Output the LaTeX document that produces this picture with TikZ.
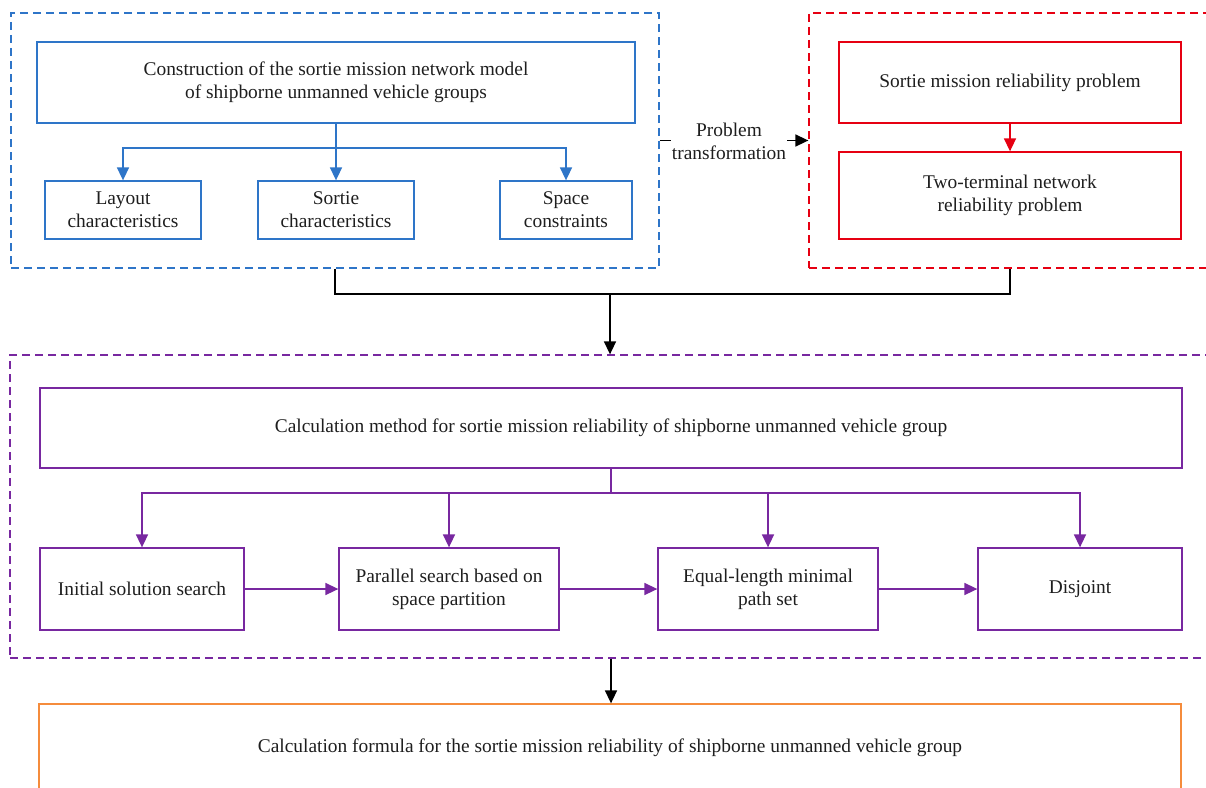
\documentclass[tikz,border=0pt]{standalone}
\usepackage{fontspec}
\setmainfont{Liberation Serif}
\usetikzlibrary{arrows.meta}
\definecolor{cblue}{RGB}{46,117,200}
\definecolor{cred}{RGB}{230,0,18}
\definecolor{cpurple}{RGB}{120,40,160}
\definecolor{corange}{RGB}{245,140,60}
\definecolor{ctext}{RGB}{30,30,30}
\tikzset{
  box/.style={draw, line width=1.3pt, align=center, text=ctext, inner sep=2pt,
    font=\fontsize{19.4}{23}\selectfont},
  group/.style={draw, dashed, line width=1.3pt, dash pattern=on 8pt off 5pt},
  arr/.style={line width=1.6pt, -{Triangle[length=13pt,width=12pt]}},
  ln/.style={line width=1.6pt},
}
\begin{document}
\begin{tikzpicture}[x=1pt,y=-1pt]
\useasboundingbox (0,0) rectangle (1206,787);
\clip (0,0) rectangle (1206,787);
% groups
\node[group, draw=cblue, minimum width=648pt, minimum height=255pt] (bdash) at (335,140.5) {};
\node[group, draw=cred, minimum width=431pt, minimum height=255pt] (rdash) at (1024.5,140.5) {};
\node[group, draw=cpurple, minimum width=1230pt, minimum height=303pt] (pdash) at (625,506.5) {};
% blue
\node[box, draw=cblue, minimum width=598pt, minimum height=81pt] (btop) at (336,82.5) {Construction of the sortie mission network model\\of shipborne unmanned vehicle groups};
\node[box, draw=cblue, minimum width=156pt, minimum height=58pt] (layout) at (123,210) {Layout\\characteristics};
\node[box, draw=cblue, minimum width=156pt, minimum height=58pt] (sortie) at (336,210) {Sortie\\characteristics};
\node[box, draw=cblue, minimum width=132pt, minimum height=58pt] (space) at (566,210) {Space\\constraints};
\coordinate (bsplit) at (336,148);
\draw[ln, cblue] (btop.south) -- (bsplit);
\draw[arr, cblue] (bsplit) -| (layout.north);
\draw[arr, cblue] (bsplit) -- (sortie.north);
\draw[arr, cblue] (bsplit) -| (space.north);
% red
\node[box, draw=cred, minimum width=342pt, minimum height=81pt] (r1) at (1010,82.5) {Sortie mission reliability problem};
\node[box, draw=cred, minimum width=342pt, minimum height=87pt] (r2) at (1010,195.5) {Two-terminal network\\reliability problem};
\draw[arr, cred] (r1.south) -- (r2.north);
% problem transformation
\node[align=center, text=ctext, inner sep=1pt, font=\fontsize{19.4}{23}\selectfont] (ptxt) at (729,141) {Problem\\transformation};
\draw[ln] (bdash.east) -- (ptxt.west |- bdash.east);
\draw[arr] (ptxt.east |- rdash.west) -- (rdash.west);
% join
\coordinate (m) at (610,294);
\draw[ln] (bdash.south) |- (m) -| (r2.south |- rdash.south);
\draw[arr] (m) -- (m |- pdash.north);
% purple
\node[box, draw=cpurple, minimum width=1142pt, minimum height=80pt] (ptop) at (611,428) {Calculation method for sortie mission reliability of shipborne unmanned vehicle group};
\node[box, draw=cpurple, minimum width=204pt, minimum height=82pt] (init) at (142,589) {Initial solution search};
\node[box, draw=cpurple, minimum width=220pt, minimum height=82pt] (par) at (449,589) {Parallel search based on\\space partition};
\node[box, draw=cpurple, minimum width=220pt, minimum height=82pt] (eq) at (768,589) {Equal-length minimal\\path set};
\node[box, draw=cpurple, minimum width=204pt, minimum height=82pt] (dis) at (1080,589) {Disjoint};
\coordinate (psplit) at (611,493);
\draw[ln, cpurple] (ptop.south) -- (psplit);
\draw[arr, cpurple] (psplit) -| (init.north);
\draw[arr, cpurple] (psplit) -| (par.north);
\draw[arr, cpurple] (psplit) -| (eq.north);
\draw[arr, cpurple] (psplit) -| (dis.north);
\draw[arr, cpurple] (init.east) -- (par.west);
\draw[arr, cpurple] (par.east) -- (eq.west);
\draw[arr, cpurple] (eq.east) -- (dis.west);
% orange
\node[box, draw=corange, minimum width=1142pt, minimum height=88pt] (orange) at (610,748) {Calculation formula for the sortie mission reliability of shipborne unmanned vehicle group};
\draw[arr] (ptop.south |- pdash.south) -- (ptop.south |- orange.north);
\end{tikzpicture}
\end{document}
